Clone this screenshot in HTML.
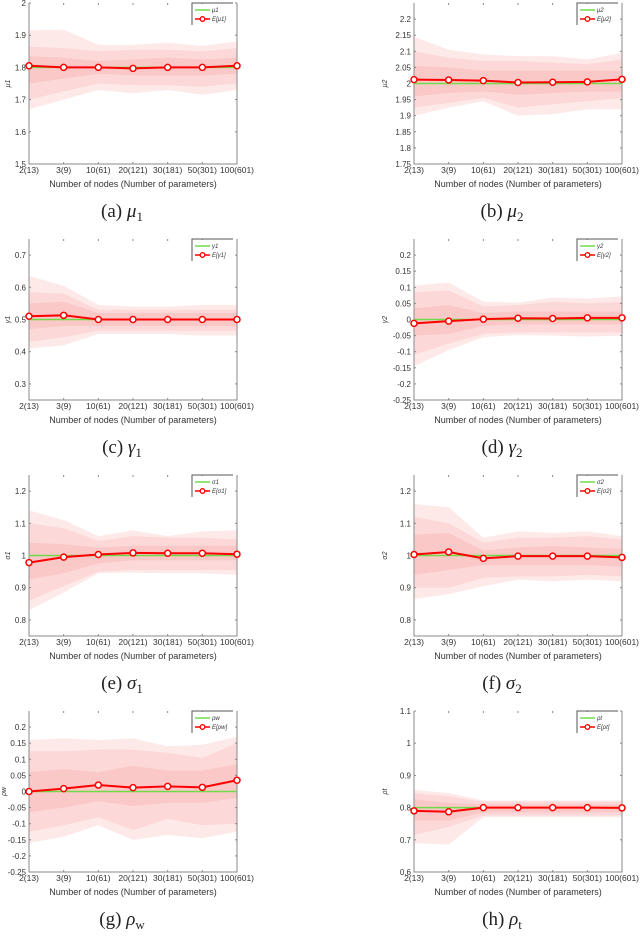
<!DOCTYPE html>
<html><head><meta charset="utf-8">
<style>
html,body{margin:0;padding:0;background:#fff;}
svg{display:block;font-family:"Liberation Sans",sans-serif;}
.cap{font-family:"Liberation Serif",serif;font-size:19px;fill:#222;}
</style></head>
<body>
<svg id="fig" width="640" height="936" viewBox="0 0 640 936" xmlns="http://www.w3.org/2000/svg"></svg>
<script>
const categories = ["2(13)","3(9)","10(61)","20(121)","30(181)","50(301)","100(601)"];

const aMean=[1.805,1.8,1.8,1.797,1.8,1.8,1.805];
const aOutHi=[1.915,1.917,1.87,1.87,1.877,1.867,1.88];
const aOutLo=[1.67,1.70,1.73,1.72,1.73,1.715,1.73];
const aMidHi=[1.865,1.86,1.85,1.855,1.855,1.85,1.86];
const aMidLo=[1.70,1.725,1.75,1.745,1.745,1.74,1.75];
const aInHi=[1.835,1.83,1.82,1.825,1.83,1.825,1.83];
const aInLo=[1.75,1.765,1.78,1.775,1.775,1.775,1.78];

const bMean=[2.012,2.011,2.009,2.003,2.004,2.005,2.013];
const bOutHi=[2.145,2.105,2.09,2.085,2.085,2.075,2.095];
const bOutLo=[1.90,1.925,1.945,1.90,1.905,1.92,1.92];
const bMidHi=[2.1,2.08,2.07,2.07,2.065,2.06,2.075];
const bMidLo=[1.925,1.94,1.955,1.925,1.935,1.945,1.955];
const bInHi=[2.055,2.05,2.04,2.04,2.04,2.04,2.04];
const bInLo=[1.96,1.97,1.975,1.965,1.97,1.975,1.975];

const cMean=[0.51,0.513,0.5,0.5,0.5,0.5,0.5];
const cOutHi=[0.635,0.605,0.545,0.54,0.54,0.545,0.545];
const cOutLo=[0.41,0.42,0.455,0.455,0.455,0.45,0.45];
const cMidHi=[0.585,0.58,0.53,0.53,0.53,0.53,0.53];
const cMidLo=[0.43,0.445,0.465,0.465,0.465,0.465,0.465];
const cInHi=[0.55,0.555,0.52,0.52,0.52,0.52,0.52];
const cInLo=[0.47,0.48,0.48,0.48,0.48,0.48,0.48];

const dMean=[-0.012,-0.005,0.001,0.004,0.003,0.005,0.005];
const dOutHi=[0.105,0.115,0.055,0.052,0.068,0.065,0.072];
const dOutLo=[-0.145,-0.095,-0.055,-0.048,-0.05,-0.053,-0.05];
const dMidHi=[0.085,0.09,0.04,0.045,0.055,0.05,0.055];
const dMidLo=[-0.11,-0.075,-0.045,-0.04,-0.04,-0.04,-0.04];
const dInHi=[0.035,0.045,0.02,0.025,0.025,0.025,0.025];
const dInLo=[-0.05,-0.045,-0.02,-0.015,-0.015,-0.015,-0.015];

const eMean=[0.978,0.995,1.003,1.008,1.007,1.007,1.004];
const eOutHi=[1.14,1.11,1.06,1.078,1.06,1.075,1.078];
const eOutLo=[0.83,0.885,0.945,0.947,0.945,0.945,0.94];
const eMidHi=[1.1,1.085,1.045,1.06,1.055,1.055,1.05];
const eMidLo=[0.86,0.905,0.95,0.955,0.955,0.955,0.955];
const eInHi=[1.04,1.035,1.025,1.03,1.03,1.03,1.03];
const eInLo=[0.925,0.945,0.975,0.985,0.985,0.985,0.985];

const fMean=[1.003,1.011,0.991,0.998,0.998,0.998,0.994];
const fOutHi=[1.16,1.15,1.055,1.075,1.07,1.075,1.06];
const fOutLo=[0.865,0.88,0.905,0.925,0.92,0.925,0.92];
const fMidHi=[1.12,1.1,1.04,1.055,1.055,1.06,1.05];
const fMidLo=[0.9,0.9,0.93,0.935,0.935,0.94,0.935];
const fInHi=[1.065,1.07,1.015,1.025,1.03,1.025,1.02];
const fInLo=[0.94,0.955,0.97,0.97,0.97,0.97,0.965];

const gMean=[0,0.009,0.02,0.012,0.016,0.013,0.035];
const gOutHi=[0.16,0.165,0.16,0.165,0.14,0.145,0.17];
const gOutLo=[-0.16,-0.14,-0.105,-0.15,-0.135,-0.145,-0.125];
const gMidHi=[0.125,0.125,0.13,0.13,0.12,0.105,0.15];
const gMidLo=[-0.125,-0.105,-0.08,-0.12,-0.085,-0.105,-0.1];
const gInHi=[0.06,0.07,0.06,0.08,0.065,0.065,0.085];
const gInLo=[-0.065,-0.05,-0.03,-0.045,-0.035,-0.035,-0.02];

const hMean=[0.79,0.787,0.8,0.8,0.8,0.8,0.799];
const hOutHi=[0.855,0.845,0.822,0.822,0.822,0.822,0.822];
const hOutLo=[0.69,0.685,0.77,0.77,0.77,0.77,0.77];
const hMidHi=[0.845,0.835,0.818,0.818,0.818,0.818,0.818];
const hMidLo=[0.715,0.74,0.775,0.775,0.775,0.775,0.775];
const hInHi=[0.825,0.815,0.81,0.81,0.81,0.81,0.81];
const hInLo=[0.76,0.76,0.785,0.785,0.785,0.785,0.785];

const truths=[1.8,2,0.5,0,1,1,0,0.8];
const yMins=[1.5,1.75,0.25,-0.25,0.75,0.75,-0.25,0.6];
const yMaxs=[2,2.25,0.75,0.25,1.25,1.25,0.25,1.1];
const yTickLabels=[
 ["1.5","1.6","1.7","1.8","1.9","2"],
 ["1.75","1.8","1.85","1.9","1.95","2","2.05","2.1","2.15","2.2"],
 ["0.3","0.4","0.5","0.6","0.7"],
 ["-0.25","-0.2","-0.15","-0.1","-0.05","0","0.05","0.1","0.15","0.2"],
 ["0.8","0.9","1","1.1","1.2"],
 ["0.8","0.9","1","1.1","1.2"],
 ["-0.25","-0.2","-0.15","-0.1","-0.05","0","0.05","0.1","0.15","0.2"],
 ["0.6","0.7","0.8","0.9","1","1.1"]];
const symbols=["μ","μ","γ","γ","σ","σ","ρ","ρ"];
const subs=["1","2","1","2","1","2","w","t"];
const letters=["a","b","c","d","e","f","g","h"];

const panels=[
 [aMean,aOutHi,aOutLo,aMidHi,aMidLo,aInHi,aInLo],
 [bMean,bOutHi,bOutLo,bMidHi,bMidLo,bInHi,bInLo],
 [cMean,cOutHi,cOutLo,cMidHi,cMidLo,cInHi,cInLo],
 [dMean,dOutHi,dOutLo,dMidHi,dMidLo,dInHi,dInLo],
 [eMean,eOutHi,eOutLo,eMidHi,eMidLo,eInHi,eInLo],
 [fMean,fOutHi,fOutLo,fMidHi,fMidLo,fInHi,fInLo],
 [gMean,gOutHi,gOutLo,gMidHi,gMidLo,gInHi,gInLo],
 [hMean,hOutHi,hOutLo,hMidHi,hMidLo,hInHi,hInLo]];

const NS="http://www.w3.org/2000/svg";
const fig=document.getElementById('fig');
function mk(tag,attrs,parent){const e=document.createElementNS(NS,tag);for(const k in attrs)e.setAttribute(k,attrs[k]);parent.appendChild(e);return e;}

panels.forEach((p,i)=>{
  const col=i%2,row=Math.floor(i/2);
  const L=col?414:29, R=col?622:237, T=3+row*236, B=164+row*236;
  const g=mk('g',{},fig);
  
  
  const xs=k=>L+(R-L)*k/(categories.length-1);
  const ys=v=>B-(B-T)*(v-yMins[i])/(yMaxs[i]-yMins[i]);
  function band(hi,lo,fill,name){
    let d='M'+hi.map((v,k)=>xs(k)+','+ys(v)).join(' L');
    for(let k=lo.length-1;k>=0;k--) d+=' L'+xs(k)+','+ys(lo[k]);
    const e=mk('path',{d:d+'Z',fill:fill},g);
    
    
  }
  band(p[1],p[2],'#fee9e9','outer-band');
  band(p[3],p[4],'#fdd8d8','middle-band');
  band(p[5],p[6],'#fbc8c8','inner-band');
  const ax=mk('path',{d:`M${L},${T} L${L},${B} L${R},${B} L${R},${T}`,fill:'none',stroke:'#8a8a8a','stroke-width':1},g);
  
  
  yTickLabels[i].forEach(t=>{
    const v=parseFloat(t), y=ys(v);
    mk('line',{x1:L,x2:L+2,y1:y,y2:y,stroke:'#888'},g);
    mk('line',{x1:R,x2:R-2,y1:y,y2:y,stroke:'#888'},g);
    const tx=mk('text',{x:L-3,y:y+3,'font-size':8,'text-anchor':'end',fill:'#333'},g);
    tx.textContent=t;
    
    
  });
  categories.forEach((c,k)=>{
    mk('line',{x1:xs(k),x2:xs(k),y1:B,y2:B-2,stroke:'#888'},g);
    mk('line',{x1:xs(k),x2:xs(k),y1:T,y2:T+2,stroke:'#888'},g);
    const tx=mk('text',{x:xs(k),y:B+9,'font-size':8.5,'text-anchor':'middle',fill:'#333'},g);
    tx.textContent=c;
    
    
  });
  const xl=mk('text',{x:(L+R)/2,y:B+23,'font-size':9,'text-anchor':'middle',fill:'#333'},g);
  xl.textContent='Number of nodes (Number of parameters)';
  
  
  const off = col ? 27 : (i===6 ? 23 : 19);
  const yl=mk('text',{x:0,y:0,'font-size':7,'font-style':'italic','text-anchor':'middle',fill:'#333',transform:`translate(${L-off},${(T+B)/2}) rotate(-90)`},g);
  yl.textContent=symbols[i]+subs[i];
  
  
  const tl=mk('line',{x1:L,x2:R,y1:ys(truths[i]),y2:ys(truths[i]),stroke:'#6edc4a','stroke-width':1.5},g);
  
  
  const ml=mk('polyline',{points:p[0].map((v,k)=>xs(k)+','+ys(v)).join(' '),fill:'none',stroke:'#f00','stroke-width':2},g);
  
  
  p[0].forEach((v,k)=>{
    const c=mk('circle',{cx:xs(k),cy:ys(v),r:3,fill:'#fff',stroke:'#f00','stroke-width':1.5},g);
    
    
  });
  const lg=mk('g',{},g);
  
  
  const lx=R-45;
  mk('path',{d:`M${lx},${T+22} L${lx},${T} L${R-4},${T}`,fill:'none',stroke:'#555','stroke-width':1},lg);
  mk('rect',{x:lx+1,y:T+1,width:R-lx-6,height:20,fill:'#fff'},lg);
  mk('line',{x1:lx+3,x2:lx+18,y1:T+7,y2:T+7,stroke:'#6edc4a','stroke-width':1.5},lg);
  mk('line',{x1:lx+3,x2:lx+18,y1:T+16,y2:T+16,stroke:'#f00','stroke-width':1.5},lg);
  mk('circle',{cx:lx+10.5,cy:T+16,r:2.3,fill:'#fff',stroke:'#f00','stroke-width':1.3},lg);
  const t1=mk('text',{x:lx+20,y:T+9,'font-size':6,'font-style':'italic',fill:'#333'},lg);
  t1.textContent=symbols[i]+subs[i];
  
  
  const t2=mk('text',{x:lx+20,y:T+18,'font-size':6,'font-style':'italic',fill:'#333'},lg);
  t2.textContent='E['+symbols[i]+subs[i]+']';
  
  
  const cap=mk('text',{x:col?502:122,y:217+row*236,'text-anchor':'middle',class:'cap'},g);
  cap.innerHTML='('+letters[i]+') <tspan font-style="italic">'+symbols[i]+'</tspan><tspan font-size="13" dy="4">'+subs[i]+'</tspan>';
  
  
});
</script>
</body></html>
